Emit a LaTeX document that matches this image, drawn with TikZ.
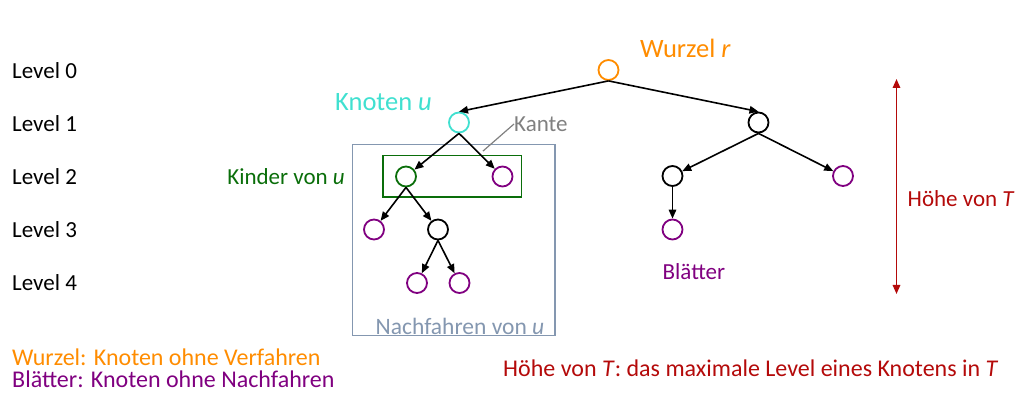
\documentclass[tikz,border=0pt]{standalone}
\usepackage{fontspec}
\setmainfont{Carlito}
\usetikzlibrary{arrows.meta,calc}
\definecolor{corange}{RGB}{255,140,0}
\definecolor{cturq}{RGB}{64,224,208}
\definecolor{cgreen}{RGB}{10,110,10}
\definecolor{cpurple}{RGB}{128,0,128}
\definecolor{cred}{RGB}{180,10,10}
\definecolor{cgray}{RGB}{128,128,128}
\definecolor{cbox}{RGB}{132,151,176}
\tikzset{
  vert/.style={circle, draw, line width=1.8pt, minimum size=20pt, inner sep=0pt},
  leaf/.style={vert, draw=cpurple},
  tip/.style={Triangle[length=9pt,width=7.5pt]},
  edge/.style={line width=1.6pt, -{Triangle[length=9pt,width=7.5pt]}},
  txt/.style={font=\fontsize{23}{26}\selectfont, inner sep=0pt},
  btxt/.style={font=\fontsize{24}{26}\selectfont, inner sep=0pt},
  big/.style={font=\fontsize{26.5}{30}\selectfont, inner sep=0pt}
}
\begin{document}
\begin{tikzpicture}[x=1pt,y=-1pt]
\useasboundingbox (0,0) rectangle (1021,403);
% level labels
\node[txt,anchor=west] (l0) at (12,71) {Level 0};
\node[txt,anchor=west] (l1) at (12,124) {Level 1};
\node[txt,anchor=west] (l2) at (12,177) {Level 2};
\node[txt,anchor=west] (l3) at (12,230) {Level 3};
\node[txt,anchor=west] (l4) at (12,283) {Level 4};
% boxes
\draw[cbox, line width=1.6pt] (352.5,144.5) rectangle (555,335.5);
\draw[cgreen, line width=1.6pt] (383,155.5) rectangle (521.5,197);
% nodes
\node[vert, draw=corange] (r) at (608.5,70) {};
\node[vert, draw=cturq] (u) at (459,122.5) {};
\node[vert] (b) at (758.5,122.5) {};
\node[vert, draw=cgreen] (g) at (406,176.5) {};
\node[leaf] (p1) at (502.5,176.5) {};
\node[vert] (c) at (672.5,176) {};
\node[leaf] (p2) at (843,176) {};
\node[leaf] (p3) at (374,229.5) {};
\node[vert] (d) at (438,229.5) {};
\node[leaf] (p4) at (672.5,229.5) {};
\node[leaf] (p5) at (417,283) {};
\node[leaf] (p6) at (459.5,283) {};
% edges
\draw[edge] (r.south) -- (u.north);
\draw[edge] (r.south) -- (b.north);
\draw[edge] (u.south) -- (g);
\draw[edge] (u.south) -- (p1);
\draw[edge] (b.south) -- (c);
\draw[edge] (b.south) -- (p2);
\draw[edge] (g.south) -- (p3);
\draw[edge] (g.south) -- (d);
\draw[edge] (c.south) -- (p4);
\draw[edge] (d.south) -- (p5);
\draw[edge] (d.south) -- (p6);
% labels
\node[big, text=corange, anchor=west] (wl) at (640,48) {Wurzel \textit{r}};
\node[big, text=cturq, anchor=east] (kl) at (432,102) {Knoten \textit{u}};
\node[txt, text=cgray, anchor=west] (kante) at (514,124) {Kante};
\coordinate (ke) at ($(u.south)!0.55!(p1.north)$);
\draw[cgray, line width=1.2pt] (kante.west) -- (ke);
\node[txt, text=cgreen, anchor=east] (kin) at (345,176.5) {Kinder von \textit{u}};
\node[font=\fontsize{23.5}{26}\selectfont, inner sep=0pt, text=cbox, anchor=center] (nach) at (460,326.5) {Nachfahren von \textit{u}};
\node[txt, text=cpurple, anchor=west] (bl) at (662.5,271.5) {Blätter};
% height arrow
\coordinate (ht) at (896.5,79);
\coordinate (hb) at (896.5,294);
\draw[cred, line width=1.6pt, {Triangle[length=9pt,width=7.5pt]}-{Triangle[length=9pt,width=7.5pt]}] (ht) -- (hb);
\node[txt, text=cred, anchor=west] (hl) at (907.5,198.5) {Höhe von \textit{T}};
% bottom texts
\node[btxt, text=corange, anchor=west] (bw) at (12,357) {Wurzel: Knoten ohne Verfahren};
\node[btxt, text=cpurple, anchor=west] (bb) at (12,379) {Blätter: Knoten ohne Nachfahren};
\node[btxt, text=cred, anchor=west] (bh) at (503,368) {Höhe von \textit{T}: das maximale Level eines Knotens in \textit{T}};
\end{tikzpicture}
\end{document}
